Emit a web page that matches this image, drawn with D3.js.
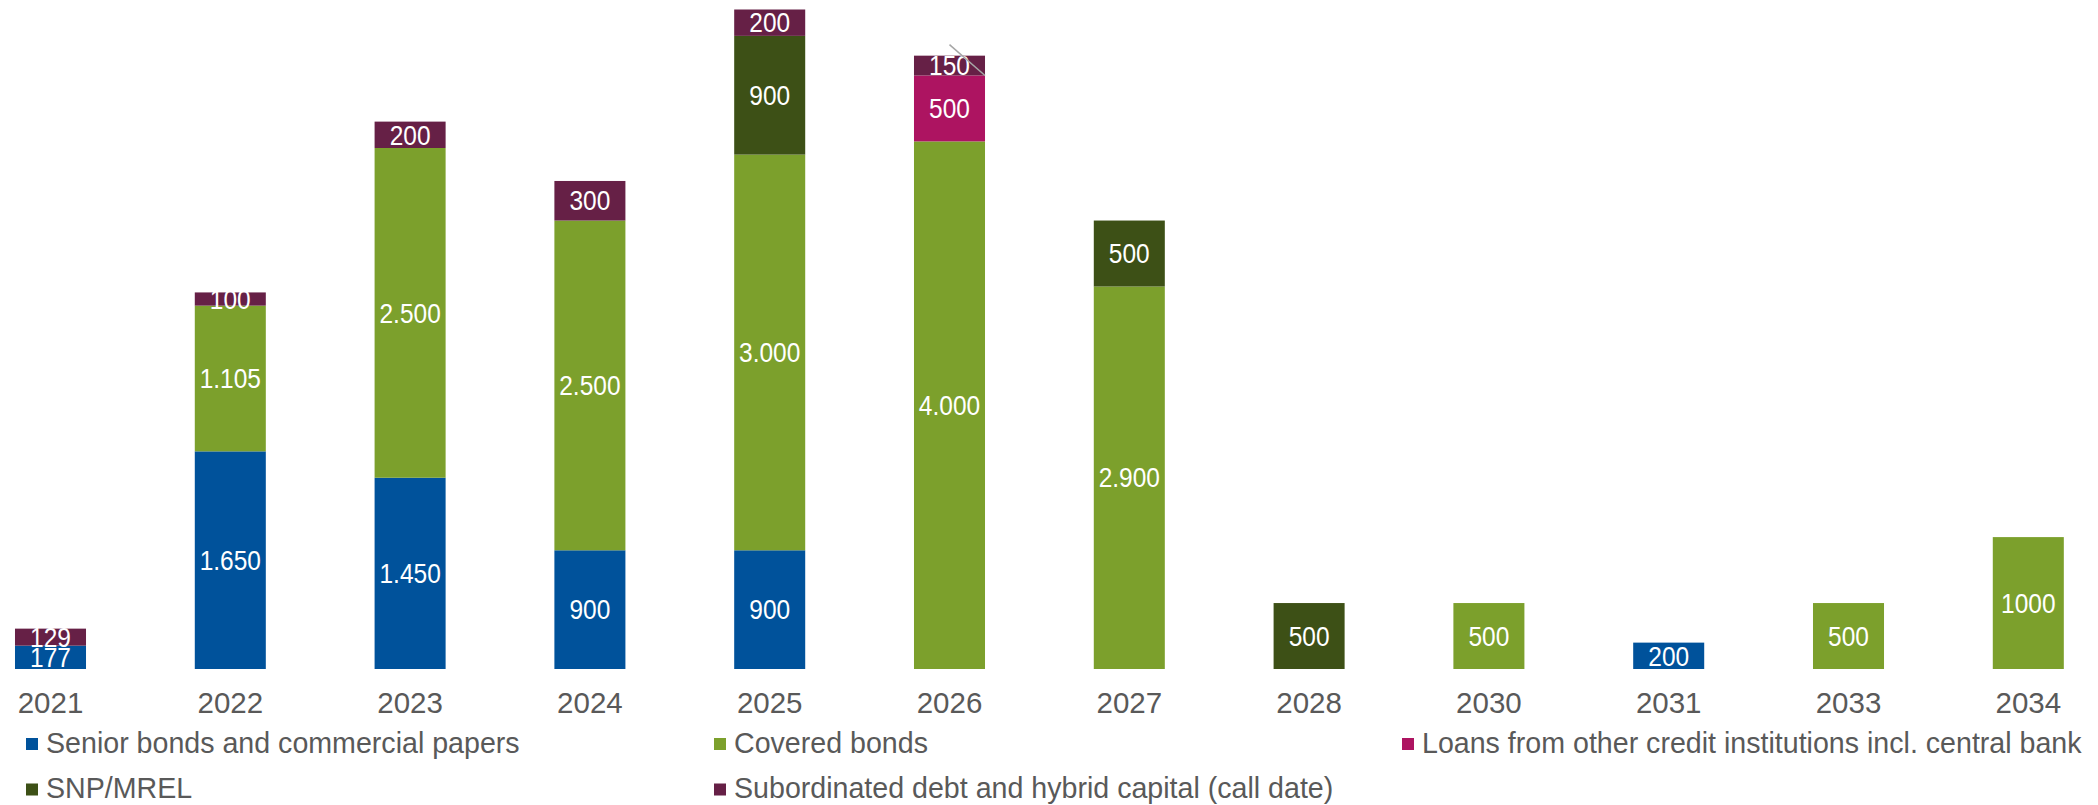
<!DOCTYPE html>
<html>
<head>
<meta charset="utf-8">
<script src="https://cdn.jsdelivr.net/npm/d3@7"></script>
<style>
  html, body { margin: 0; padding: 0; background: #fff; }
  svg { display: block; }
  text { font-family: "Liberation Sans", Arial, sans-serif; }
</style>
</head>
<body>
<svg id="chart" width="2098" height="805"></svg>
<script>
// Maturity years (x categories)
const years = ["2021", "2022", "2023", "2024", "2025", "2026", "2027", "2028", "2030", "2031", "2033", "2034"];

// Maturing volumes per funding type (stacked bottom to top)
const seniorBonds   = [177, 1650, 1450, 900, 900, 0, 0, 0, 0, 200, 0, 0];
const coveredBonds  = [0, 1105, 2500, 2500, 3000, 4000, 2900, 0, 500, 0, 500, 1000];
const loansCredit   = [0, 0, 0, 0, 0, 500, 0, 0, 0, 0, 0, 0];
const snpMrel       = [0, 0, 0, 0, 900, 0, 500, 500, 0, 0, 0, 0];
const subordinated  = [129, 100, 200, 300, 200, 150, 0, 0, 0, 0, 0, 0];

const seriesNames = [
  "Senior bonds and commercial papers",
  "Covered bonds",
  "Loans from other credit institutions incl. central bank",
  "SNP/MREL",
  "Subordinated debt and hybrid capital (call date)"
];
const seriesColors = ["#00529B", "#7CA02C", "#AD1461", "#3D5016", "#662046"];

// Years whose labels are printed without a thousands separator
const plainLabelYears = ["2034"];

const seriesValues = [seniorBonds, coveredBonds, loansCredit, snpMrel, subordinated];
const keys = seriesNames;
const table = years.map((y, i) => {
  const row = { year: y };
  keys.forEach((k, j) => { row[k] = seriesValues[j][i]; });
  return row;
});

const svg = d3.select("#chart");

const x = d3.scaleBand()
  .domain(years)
  .range([-39.4, 2118.2])
  .paddingInner(0.605)
  .paddingOuter(0.3025);

const y = d3.scaleLinear()
  .domain([0, 5000])
  .range([669, 9.5]);

const stacked = d3.stack().keys(keys)(table);

const locale = d3.formatLocale({ decimal: ",", thousands: ".", grouping: [3], currency: ["", ""] });
const fmtSep = locale.format(",d");
const fmtPlain = d3.format("d");

const layers = svg.append("g").attr("class", "bars")
  .selectAll("g")
  .data(stacked)
  .join("g")
  .attr("fill", (d, i) => seriesColors[i]);

layers.selectAll("rect")
  .data(d => d.filter(s => s[1] - s[0] > 0))
  .join("rect")
  .attr("x", d => x(d.data.year))
  .attr("width", x.bandwidth())
  .attr("y", d => y(d[1]))
  .attr("height", d => y(d[0]) - y(d[1]));

// Value labels centred inside each segment (slightly tall glyphs)
const labelData = [];
stacked.forEach(layer => {
  layer.forEach(s => {
    const v = s[1] - s[0];
    if (v > 0) labelData.push({ year: s.data.year, v, y0: s[0], y1: s[1] });
  });
});

svg.append("g").attr("class", "labels")
  .selectAll("text")
  .data(labelData)
  .join("text")
  .attr("transform", d => `translate(${x(d.year) + x.bandwidth() / 2},${(y(d.y0) + y(d.y1)) / 2}) scale(1,1.1)`)
  .attr("dy", "0.36em")
  .attr("text-anchor", "middle")
  .attr("fill", "#fff")
  .attr("font-size", 24.5)
  .text(d => plainLabelYears.includes(d.year) ? fmtPlain(d.v) : fmtSep(d.v));

// Leader line next to the 2026 subordinated label
const leaderYear = "2026";
const li = years.indexOf(leaderYear);
const leaderTop = seniorBonds[li] + coveredBonds[li] + loansCredit[li] + snpMrel[li] + subordinated[li];
const leaderBase = leaderTop - subordinated[li];
svg.append("line")
  .attr("x1", x(leaderYear) + x.bandwidth() / 2)
  .attr("y1", y(leaderTop) - 11)
  .attr("x2", x(leaderYear) + x.bandwidth())
  .attr("y2", y(leaderBase))
  .attr("stroke", "#A6A6A6")
  .attr("stroke-width", 1.5);

// Category axis (labels only)
const xAxis = d3.axisBottom(x).tickSize(0).tickPadding(0);
const axisG = svg.append("g")
  .attr("transform", "translate(0,669)")
  .call(xAxis);
axisG.select(".domain").remove();
axisG.selectAll("text")
  .attr("y", 44)
  .attr("dy", 0)
  .attr("fill", "#595959")
  .attr("font-size", 29.5)
  .attr("font-family", "'Liberation Sans', Arial, sans-serif");

// Legend: three columns, two rows
const legendCols = [26, 714, 1402];
const legendRows = [752.5, 798];
const legend = svg.append("g").attr("class", "legend")
  .selectAll("g")
  .data(seriesNames)
  .join("g")
  .attr("transform", (d, i) => `translate(${legendCols[i % 3]},${legendRows[Math.floor(i / 3)]})`);

legend.append("rect")
  .attr("x", 0)
  .attr("y", -14.5)
  .attr("width", 12)
  .attr("height", 12)
  .attr("fill", (d, i) => seriesColors[i]);

legend.append("text")
  .attr("x", 20)
  .attr("y", 0)
  .attr("fill", "#595959")
  .attr("font-size", 28.6)
  .text(d => d);
</script>
</body>
</html>
